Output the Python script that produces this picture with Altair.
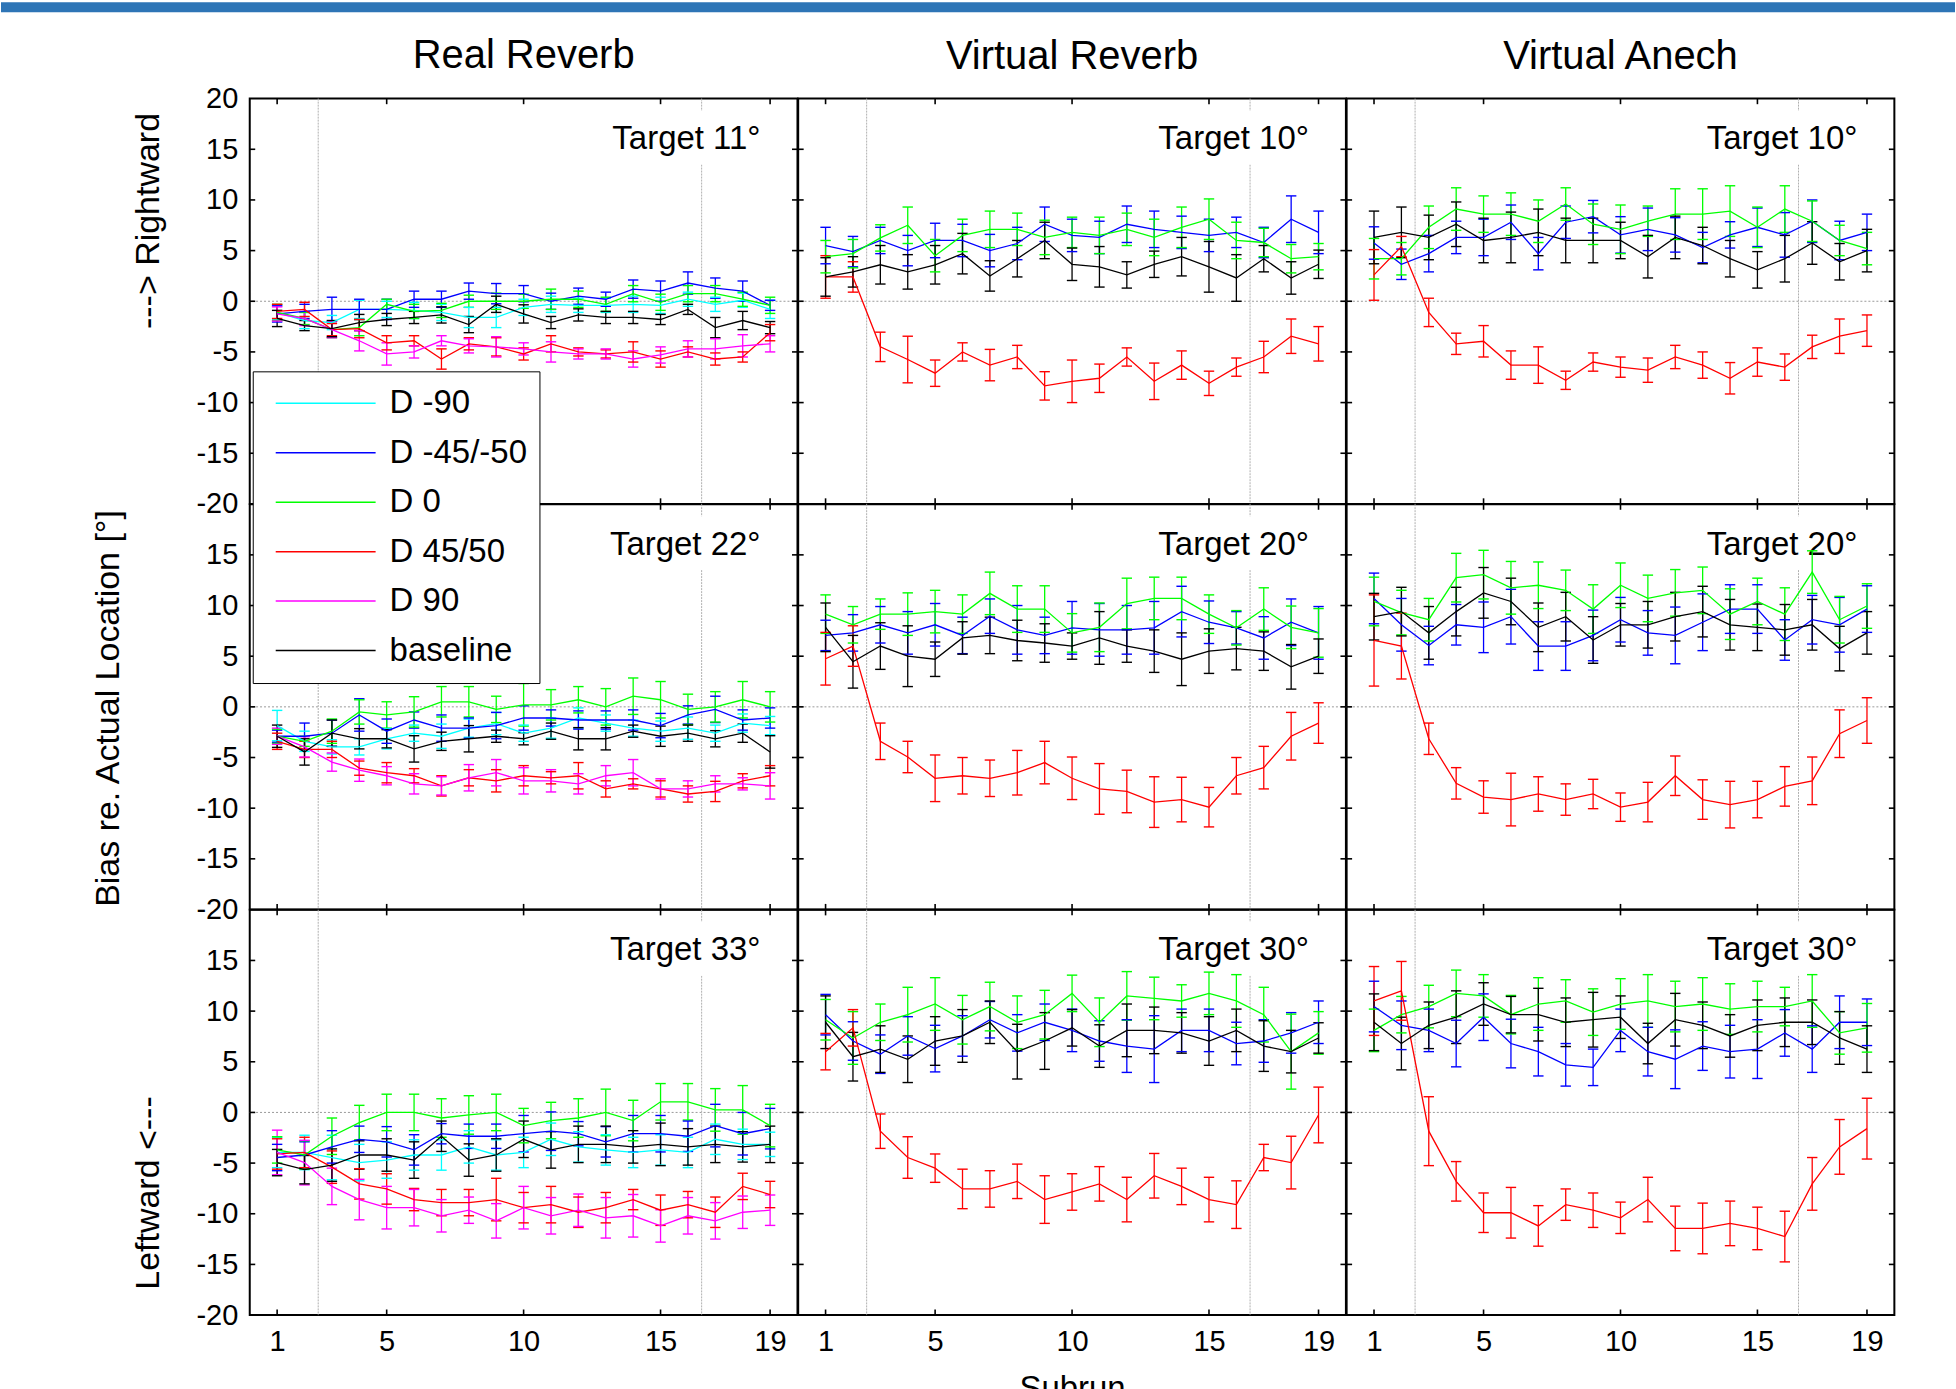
import altair as alt
import pandas as pd

FONT = "Liberation Sans"

SERIES = ["D -90", "D -45/-50", "D 0", "D 45/50", "D 90", "baseline"]
COLORS = ["#00ffff", "#0000ff", "#00ff00", "#ff0000", "#ff00ff", "#000000"]
COLUMN_TITLES = ["Real Reverb", "Virtual Reverb", "Virtual Anech"]
TARGETS = [["Target 11°", "Target 10°", "Target 10°"],
           ["Target 22°", "Target 20°", "Target 20°"],
           ["Target 33°", "Target 30°", "Target 30°"]]
SUBRUNS = list(range(1, 20))
X_TICKS = [1, 5, 10, 15, 19]
Y_TICKS_TOP = [-20, -15, -10, -5, 0, 5, 10, 15, 20]
Y_TICKS_LOWER = [-20, -15, -10, -5, 0, 5, 10, 15]
Y_INNER = [-15, -10, -5, 0, 5, 10, 15]
V_LINES = [2.5, 16.5]

# ---------------- Real Reverb, Target 11 ----------------
rr1_mean = {
    "D -90": [-1.1, -1.9, -2.1, -0.8, -0.8, -0.9, -1.1, -1.6, -1.6, -0.6, -0.3, -0.4, -0.4, -0.3, -0.4, 0.2, -0.3, 0.1, -0.8],
    "D -45/-50": [-1.25, -1.0, -0.8, -0.8, -0.8, 0.2, 0.2, 1.0, 0.75, 0.75, 0.0, 0.5, 0.2, 1.2, 1.0, 1.8, 1.3, 1.0, -0.4],
    "D 0": [-1.1, -1.7, -2.8, -2.6, -0.3, -1.0, -0.9, 0.0, 0.0, 0.0, 0.2, 0.2, -0.3, 0.75, -0.1, 0.75, 0.75, 0.2, -0.4],
    "D 45/50": [-1.0, -0.8, -2.8, -2.7, -4.1, -3.9, -5.7, -4.2, -4.5, -5.2, -4.2, -5.0, -5.2, -5.0, -5.7, -5.0, -5.7, -5.5, -3.1],
    "D 90": [-1.25, -1.7, -2.8, -3.9, -5.2, -5.0, -3.9, -4.4, -4.5, -4.7, -5.0, -5.2, -5.2, -5.7, -5.3, -4.7, -4.7, -4.4, -4.2],
    "baseline": [-1.7, -2.4, -2.7, -2.1, -1.8, -1.6, -1.35, -2.3, -0.3, -1.25, -2.1, -1.35, -1.6, -1.6, -1.8, -0.8, -2.6, -1.9, -2.6],
}
rr1_err = {
    "D -90": [0.7, 0.8, 0.7, 0.9, 0.8, 0.8, 0.8, 1.0, 1.0, 0.8, 0.8, 0.7, 0.7, 0.8, 0.8, 0.7, 0.7, 0.7, 0.9],
    "D -45/-50": [0.8, 0.7, 1.2, 1.0, 1.0, 0.8, 0.8, 0.8, 1.0, 0.8, 0.8, 0.8, 0.7, 0.9, 1.0, 1.1, 1.0, 1.0, 0.5],
    "D 0": [0.8, 0.6, 0.8, 0.8, 0.5, 0.7, 0.7, 0.6, 0.8, 0.7, 1.0, 0.8, 0.7, 0.8, 0.8, 0.8, 0.8, 0.7, 0.8],
    "D 45/50": [0.7, 0.7, 0.6, 0.9, 0.7, 0.5, 1.0, 0.6, 0.9, 0.6, 0.8, 0.4, 0.4, 1.0, 0.8, 0.5, 0.6, 0.5, 0.8],
    "D 90": [0.7, 0.7, 0.8, 1.0, 1.1, 0.6, 0.5, 0.7, 1.0, 0.6, 1.0, 0.5, 0.5, 0.8, 0.8, 0.8, 1.0, 1.1, 0.8],
    "baseline": [0.8, 0.5, 0.8, 0.8, 0.6, 0.6, 0.8, 0.8, 0.8, 0.9, 0.6, 0.6, 0.6, 0.6, 0.5, 0.5, 1.0, 0.9, 0.6],
}

# ---------------- Virtual Reverb, Target 10 ----------------
vr1_mean = {
    "D -45/-50": [5.5, 4.9, 6.0, 5.0, 6.0, 6.0, 5.0, 5.7, 7.6, 6.5, 6.3, 7.6, 7.1, 6.8, 6.5, 6.8, 5.8, 8.1, 6.8],
    "D 0": [4.4, 4.7, 6.25, 7.5, 4.5, 6.5, 7.1, 7.1, 6.3, 6.8, 6.5, 7.1, 6.3, 7.3, 8.1, 6.0, 5.8, 4.2, 4.4],
    "D 45/50": [2.4, 2.4, -4.5, -5.75, -7.1, -5.0, -6.3, -5.5, -8.35, -7.9, -7.6, -5.5, -7.9, -6.3, -8.1, -6.5, -5.5, -3.45, -4.2],
    "baseline": [2.4, 2.9, 3.6, 2.9, 3.6, 4.7, 2.5, 4.2, 6.0, 3.65, 3.4, 2.6, 3.65, 4.4, 3.4, 2.3, 4.2, 2.3, 3.65],
}
vr1_err = {
    "D -45/-50": [1.8, 1.5, 1.3, 1.5, 1.7, 1.6, 1.6, 1.6, 1.7, 1.6, 1.6, 1.8, 1.8, 1.6, 1.6, 1.5, 1.5, 2.3, 2.1],
    "D 0": [1.6, 1.4, 1.3, 1.8, 1.6, 1.6, 1.8, 1.6, 1.7, 1.5, 1.8, 1.6, 1.8, 2.0, 2.0, 1.8, 1.4, 1.4, 1.3],
    "D 45/50": [2.1, 1.5, 1.45, 2.3, 1.3, 0.9, 1.55, 1.15, 1.4, 2.1, 1.4, 0.9, 1.8, 1.4, 1.2, 0.9, 1.55, 1.7, 1.7],
    "baseline": [1.9, 1.5, 1.9, 1.7, 1.9, 2.0, 1.5, 1.8, 1.8, 1.6, 2.0, 1.3, 1.3, 1.9, 2.5, 2.3, 1.3, 1.6, 1.4],
}

# ---------------- Virtual Anech, Target 10 ----------------
va1_mean = {
    "D -45/-50": [5.75, 3.65, 4.7, 6.3, 6.3, 7.8, 4.7, 7.8, 8.35, 6.55, 7.1, 6.55, 5.3, 6.55, 7.3, 6.55, 7.9, 6.0, 6.8],
    "D 0": [4.2, 4.2, 7.3, 9.1, 8.6, 8.6, 7.9, 9.6, 7.6, 7.1, 7.9, 8.6, 8.6, 8.9, 7.3, 9.1, 7.9, 6.0, 5.2],
    "D 45/50": [2.6, 5.4, -1.1, -4.2, -3.95, -6.3, -6.3, -7.8, -6.0, -6.5, -6.8, -5.5, -6.3, -7.6, -6.0, -6.5, -4.5, -3.45, -2.9],
    "baseline": [6.3, 6.8, 6.3, 7.6, 6.0, 6.3, 6.8, 6.0, 6.0, 6.0, 4.4, 6.3, 5.5, 4.2, 3.1, 4.2, 5.75, 3.9, 5.0],
}
va1_err = {
    "D -45/-50": [1.6, 1.5, 1.8, 1.6, 1.8, 1.7, 1.6, 1.6, 1.6, 1.8, 2.1, 1.7, 1.5, 1.3, 1.9, 2.2, 2.1, 1.9, 1.8],
    "D 0": [2.0, 1.6, 2.1, 2.1, 1.8, 2.1, 2.1, 1.6, 2.0, 2.4, 1.5, 2.5, 2.5, 2.5, 2.0, 2.3, 2.0, 1.5, 1.6],
    "D 45/50": [2.5, 1.0, 1.4, 1.05, 1.55, 1.4, 1.8, 0.9, 0.9, 1.0, 1.2, 1.15, 1.3, 1.55, 1.4, 1.3, 1.15, 1.7, 1.55],
    "baseline": [2.6, 2.5, 2.2, 2.2, 2.2, 2.5, 2.3, 2.2, 2.2, 1.8, 2.1, 2.1, 1.8, 1.8, 1.8, 2.3, 2.1, 1.8, 2.1],
}

# ---------------- Real Reverb, Target 22 ----------------
rr2_mean = {
    "D -90": [-1.85, -3.4, -3.95, -3.95, -3.15, -2.6, -2.9, -2.1, -1.65, -2.6, -2.1, -1.1, -1.6, -2.1, -2.4, -2.1, -2.6, -1.6, -1.85],
    "D -45/-50": [-2.9, -2.9, -2.6, -0.8, -2.4, -1.3, -2.1, -2.1, -1.85, -1.1, -1.1, -1.3, -1.3, -1.3, -1.85, -0.8, -0.25, -1.3, -1.1],
    "D 0": [-2.9, -3.4, -2.4, -0.5, -0.8, -0.5, 0.5, 0.5, -0.25, 0.2, 0.2, 0.7, 0.0, 1.05, 0.7, -0.25, 0.0, 0.7, 0.0],
    "D 45/50": [-3.4, -4.2, -4.2, -6.05, -6.5, -6.8, -7.8, -7.0, -7.3, -6.8, -7.0, -6.8, -8.1, -7.6, -8.1, -8.6, -8.35, -7.3, -6.8],
    "D 90": [-2.9, -3.95, -5.45, -6.25, -6.8, -7.6, -7.8, -7.0, -6.5, -7.3, -7.3, -7.6, -6.8, -6.5, -8.1, -8.1, -7.6, -7.6, -7.8],
    "baseline": [-2.9, -4.45, -2.6, -3.15, -3.15, -4.15, -3.4, -3.15, -2.9, -3.15, -2.4, -3.15, -3.15, -2.4, -2.9, -2.6, -3.15, -2.6, -4.45],
}
rr2_err = {
    "D -90": [1.5, 1.0, 0.7, 0.8, 1.0, 0.8, 1.2, 0.9, 1.1, 0.8, 1.0, 1.0, 0.8, 0.8, 1.0, 1.1, 0.8, 0.9, 0.9],
    "D -45/-50": [0.6, 1.3, 1.3, 1.6, 1.2, 0.8, 1.3, 1.0, 1.3, 1.2, 0.8, 0.9, 0.9, 1.0, 1.2, 0.9, 1.3, 1.0, 1.0],
    "D 0": [0.7, 0.5, 1.2, 1.2, 1.3, 1.5, 1.5, 1.5, 1.3, 2.1, 1.5, 1.3, 1.8, 1.8, 1.8, 1.5, 1.5, 1.8, 1.5],
    "D 45/50": [0.8, 0.8, 0.8, 0.7, 1.0, 0.7, 1.0, 0.8, 1.1, 1.0, 0.6, 1.3, 0.8, 0.5, 0.8, 0.8, 1.0, 0.7, 1.0],
    "D 90": [0.8, 1.0, 0.9, 1.1, 0.9, 1.0, 0.9, 1.3, 1.3, 1.3, 1.1, 1.0, 1.0, 1.3, 1.0, 0.8, 0.8, 0.6, 1.3],
    "baseline": [1.1, 1.3, 1.3, 1.0, 0.9, 1.3, 0.9, 1.3, 0.6, 0.6, 0.8, 1.1, 1.1, 0.6, 1.0, 0.8, 0.8, 0.9, 1.6],
}

# ---------------- Virtual Reverb, Target 20 ----------------
vr2_mean = {
    "D -45/-50": [7.05, 7.3, 8.1, 7.3, 8.1, 7.05, 8.95, 7.6, 7.05, 7.8, 7.6, 7.6, 7.8, 9.4, 8.35, 7.8, 6.8, 8.35, 7.3],
    "D 0": [9.15, 8.1, 9.15, 9.15, 9.4, 9.15, 11.2, 9.65, 9.65, 7.3, 7.85, 10.2, 10.7, 10.7, 9.15, 7.8, 9.65, 7.85, 7.3],
    "D 45/50": [4.75, 6.0, -3.4, -4.95, -7.05, -6.8, -7.05, -6.5, -5.5, -7.05, -8.1, -8.35, -9.4, -9.15, -9.9, -6.8, -6.0, -2.9, -1.6],
    "baseline": [7.85, 4.45, 6.0, 5.0, 4.7, 6.8, 7.05, 6.55, 6.3, 6.0, 6.8, 6.0, 5.5, 4.7, 5.5, 5.75, 5.5, 3.95, 5.0],
}
vr2_err = {
    "D -45/-50": [1.5, 1.8, 1.8, 2.1, 2.1, 1.8, 1.7, 2.4, 1.8, 2.6, 2.6, 2.4, 2.6, 2.5, 2.1, 1.6, 2.1, 2.3, 2.6],
    "D 0": [1.9, 1.8, 1.5, 2.1, 2.1, 1.9, 2.1, 2.3, 2.3, 1.9, 2.4, 2.5, 2.1, 2.1, 1.9, 1.7, 2.1, 2.1, 2.4],
    "D 45/50": [2.6, 2.0, 1.8, 1.55, 2.3, 1.8, 1.8, 2.2, 2.1, 2.1, 2.5, 2.1, 2.5, 2.2, 1.95, 1.8, 2.1, 2.35, 2.0],
    "baseline": [2.4, 2.6, 2.3, 3.0, 1.7, 1.6, 1.8, 2.0, 1.9, 1.3, 2.6, 1.6, 2.1, 2.6, 2.2, 2.1, 1.9, 2.2, 1.7],
}

# ---------------- Virtual Anech, Target 20 ----------------
va2_mean = {
    "D -45/-50": [10.7, 8.1, 6.05, 8.1, 7.85, 8.9, 6.0, 6.0, 7.05, 8.6, 7.3, 7.05, 8.35, 9.65, 9.65, 6.6, 8.6, 8.1, 9.65],
    "D 0": [10.4, 9.3, 8.6, 12.75, 13.05, 11.75, 12.0, 11.5, 9.65, 12.0, 10.7, 11.25, 11.5, 9.15, 10.4, 9.15, 13.3, 8.6, 9.95],
    "D 45/50": [6.55, 6.0, -3.15, -7.55, -8.9, -9.15, -8.6, -9.15, -8.6, -9.9, -9.4, -6.8, -9.15, -9.65, -9.15, -7.85, -7.3, -2.65, -1.35],
    "baseline": [8.9, 9.4, 7.3, 9.4, 11.25, 10.4, 7.85, 8.9, 6.6, 8.1, 8.1, 8.9, 9.4, 8.1, 7.85, 7.6, 8.1, 5.75, 7.3],
}
va2_err = {
    "D -45/-50": [2.5, 2.6, 1.9, 2.0, 2.5, 2.7, 2.4, 2.4, 2.5, 2.2, 2.2, 2.8, 2.8, 2.4, 2.4, 2.0, 2.4, 2.7, 2.3],
    "D 0": [2.4, 2.2, 2.1, 2.4, 2.4, 2.6, 2.3, 2.0, 2.4, 2.2, 2.3, 2.3, 2.3, 2.5, 2.3, 2.6, 2.1, 2.3, 2.2],
    "D 45/50": [4.5, 3.25, 1.55, 1.55, 1.6, 2.6, 1.7, 1.55, 1.45, 1.4, 1.95, 1.95, 1.95, 2.3, 1.8, 1.95, 2.35, 2.35, 2.25],
    "baseline": [2.3, 2.4, 2.6, 2.4, 2.5, 2.3, 2.4, 2.4, 2.3, 2.1, 2.3, 2.4, 2.5, 2.5, 2.3, 2.5, 2.5, 2.2, 2.1],
}

# ---------------- Real Reverb, Target 33 ----------------
rr3_mean = {
    "D -90": [-3.95, -3.95, -4.45, -4.95, -4.7, -4.2, -4.2, -3.4, -4.2, -3.95, -2.65, -3.4, -3.7, -3.95, -3.7, -3.95, -2.65, -3.15, -3.15],
    "D -45/-50": [-4.45, -4.2, -3.4, -2.65, -2.9, -3.7, -2.1, -2.35, -2.35, -2.1, -1.85, -2.1, -2.9, -2.1, -2.1, -2.35, -1.3, -2.1, -1.6],
    "D 0": [-3.7, -4.2, -2.35, -1.0, 0.0, 0.0, -0.55, -0.25, 0.0, -1.3, -0.8, -0.55, 0.0, -0.8, 1.05, 1.05, 0.25, 0.25, -1.3],
    "D 45/50": [-4.1, -3.95, -5.4, -7.05, -7.55, -8.6, -8.9, -8.9, -8.6, -9.4, -9.1, -9.85, -9.4, -8.6, -9.65, -9.1, -9.85, -7.3, -8.1],
    "D 90": [-3.95, -4.95, -7.3, -8.6, -9.4, -9.4, -10.2, -9.65, -10.7, -9.4, -10.2, -9.65, -10.4, -10.2, -11.2, -10.2, -10.7, -9.85, -9.65],
    "baseline": [-4.95, -5.65, -5.2, -4.2, -4.2, -4.7, -2.35, -4.7, -4.2, -2.65, -3.7, -3.15, -3.15, -3.4, -3.15, -3.4, -3.15, -3.4, -3.15],
}
rr3_err = {
    "D -90": [1.5, 1.7, 2.2, 1.8, 1.8, 1.5, 1.5, 1.6, 1.5, 1.5, 1.6, 1.5, 1.5, 1.5, 1.5, 1.5, 1.5, 1.5, 1.2],
    "D -45/-50": [1.3, 1.3, 1.6, 1.3, 1.5, 1.5, 1.0, 1.2, 1.2, 1.8, 1.9, 1.2, 1.5, 1.8, 1.8, 1.5, 2.1, 2.1, 2.0],
    "D 0": [1.3, 1.4, 1.8, 1.7, 1.8, 1.8, 1.9, 1.9, 1.8, 1.7, 1.8, 1.9, 2.3, 2.0, 1.8, 1.8, 2.1, 2.4, 2.1],
    "D 45/50": [1.5, 1.5, 1.6, 1.5, 1.5, 1.1, 1.3, 1.3, 2.1, 1.5, 1.8, 1.5, 1.5, 1.0, 1.5, 1.3, 1.5, 1.3, 1.3],
    "D 90": [2.2, 2.2, 1.8, 2.0, 2.1, 1.8, 1.6, 1.3, 1.7, 2.1, 1.8, 1.6, 2.0, 2.1, 1.6, 1.8, 1.8, 1.6, 1.5],
    "baseline": [1.3, 1.4, 1.6, 1.4, 1.6, 1.8, 1.5, 1.6, 1.6, 1.8, 1.8, 1.8, 1.8, 1.6, 2.1, 1.8, 1.8, 1.5, 1.8],
}

# ---------------- Virtual Reverb, Target 30 ----------------
vr3_mean = {
    "D -45/-50": [9.65, 7.05, 5.75, 7.55, 6.3, 7.55, 9.15, 7.85, 8.9, 8.1, 7.05, 6.55, 6.25, 8.1, 8.1, 6.8, 7.05, 7.85, 8.9],
    "D 0": [9.15, 7.35, 8.9, 9.65, 10.7, 9.15, 10.45, 8.9, 9.65, 11.75, 8.9, 11.5, 11.25, 11.0, 11.75, 11.0, 9.65, 6.0, 7.85],
    "D 45/50": [6.0, 8.35, -1.85, -4.45, -5.5, -7.55, -7.55, -6.8, -8.6, -7.85, -7.05, -8.6, -6.25, -7.3, -8.6, -9.1, -4.45, -4.95, -0.25],
    "baseline": [8.9, 5.5, 6.25, 5.25, 7.05, 7.55, 8.9, 6.0, 7.05, 8.35, 6.55, 8.1, 8.1, 7.85, 7.05, 8.1, 6.55, 6.0, 7.35],
}
vr3_err = {
    "D -45/-50": [2.0, 1.9, 1.9, 1.9, 2.3, 2.0, 1.8, 1.8, 1.8, 2.1, 2.0, 2.6, 3.3, 2.1, 2.1, 2.1, 2.1, 2.0, 2.1],
    "D 0": [2.0, 2.6, 1.8, 2.7, 2.6, 2.4, 2.4, 2.6, 2.4, 1.8, 2.4, 2.4, 2.1, 1.6, 2.1, 2.6, 2.7, 3.7, 2.1],
    "D 45/50": [1.8, 1.8, 1.7, 2.05, 1.4, 1.95, 1.8, 1.7, 2.35, 1.8, 1.7, 2.2, 2.2, 1.8, 2.2, 2.35, 1.3, 2.6, 2.75],
    "baseline": [2.6, 2.4, 2.3, 2.3, 2.4, 2.6, 2.1, 2.7, 2.8, 1.8, 2.1, 2.6, 2.3, 2.0, 2.4, 2.1, 2.5, 2.1, 1.5],
}

# ---------------- Virtual Anech, Target 30 ----------------
va3_mean = {
    "D -45/-50": [10.45, 8.6, 8.1, 6.8, 9.4, 6.8, 6.0, 4.7, 4.45, 8.1, 6.0, 5.25, 6.55, 6.0, 6.25, 7.85, 6.25, 8.9, 8.9],
    "D 0": [8.1, 9.65, 10.45, 11.75, 11.5, 9.65, 10.7, 11.0, 9.9, 10.7, 11.0, 10.45, 10.7, 10.2, 10.45, 10.45, 11.0, 7.85, 8.35],
    "D 45/50": [11.0, 12.0, -1.85, -6.8, -9.9, -9.9, -11.2, -9.1, -9.65, -10.4, -8.6, -11.45, -11.45, -10.95, -11.45, -12.25, -7.05, -3.4, -1.6],
    "baseline": [8.9, 6.8, 8.6, 9.4, 10.7, 9.65, 9.65, 8.9, 9.15, 9.4, 6.8, 9.15, 8.6, 7.55, 8.6, 8.9, 8.9, 7.35, 6.25],
}
va3_err = {
    "D -45/-50": [2.5, 2.4, 2.1, 2.3, 2.3, 2.4, 2.4, 2.1, 1.8, 2.1, 2.4, 2.9, 2.4, 2.6, 2.9, 2.3, 2.3, 2.6, 2.3],
    "D 0": [2.1, 1.8, 2.1, 2.3, 2.1, 1.9, 2.6, 2.1, 2.3, 2.5, 2.6, 2.5, 2.6, 2.5, 2.5, 1.9, 2.6, 2.1, 2.4],
    "D 45/50": [3.4, 2.9, 3.4, 1.95, 1.95, 2.5, 2.0, 1.55, 1.7, 1.55, 2.2, 2.2, 2.5, 2.2, 2.1, 2.5, 2.6, 2.7, 3.0],
    "baseline": [2.8, 2.6, 2.3, 2.6, 2.1, 1.8, 2.6, 2.4, 2.7, 2.1, 2.0, 2.6, 2.3, 2.1, 2.5, 2.4, 2.2, 2.6, 2.3],
}

PANELS = {
    (0, 0): (rr1_mean, rr1_err), (0, 1): (vr1_mean, vr1_err), (0, 2): (va1_mean, va1_err),
    (1, 0): (rr2_mean, rr2_err), (1, 1): (vr2_mean, vr2_err), (1, 2): (va2_mean, va2_err),
    (2, 0): (rr3_mean, rr3_err), (2, 1): (vr3_mean, vr3_err), (2, 2): (va3_mean, va3_err),
}

rows = []
for (r, c), (means, errs) in PANELS.items():
    for s in SERIES:
        if s not in means:
            continue
        for i, x in enumerate(SUBRUNS):
            rows.append({"row": r, "col": c, "series": s, "subrun": x,
                         "mean": means[s][i], "err": errs[s][i]})
df = pd.DataFrame(rows)
ONE = pd.DataFrame({"k": [0]})

W, H = 548.3, 405.7
XS = alt.Scale(domain=[0, 20], nice=False, zero=False)
YS = alt.Scale(domain=[-20, 20], nice=False, zero=False)
CS = alt.Scale(domain=SERIES, range=COLORS)
LEG = alt.Legend(orient="none", legendX=3, legendY=273, fillColor="white",
                 strokeColor="black", padding=12, symbolType="stroke",
                 symbolSize=10000, symbolStrokeWidth=1.5, symbolOffset=10,
                 labelFont=FONT, labelFontSize=33, labelColor="black",
                 labelOffset=13, clipHeight=40, rowPadding=9.5, labelLimit=400)

Y_TITLES = {0: ("---> Rightward", -84, 122), 1: ("Bias re. Actual Location [°]", -124, 204),
            2: ("Leftward <---", -84, 283)}


def panel(r, c):
    if r == 2:
        xa = alt.Axis(values=X_TICKS, ticks=False, domain=False, grid=False,
                      labelFont=FONT, labelFontSize=29, labelColor="black", labelPadding=12,
                      title="Subrun" if c == 1 else "", titleFont=FONT, titleFontSize=33,
                      titleFontWeight="normal", titleColor="black", titleY=58,
                      titleBaseline="top")
    else:
        xa = None
    if c == 0:
        t, tx, ty = Y_TITLES[r]
        ya = alt.Axis(values=Y_TICKS_TOP if r == 0 else Y_TICKS_LOWER, ticks=False,
                      domain=False, grid=False, labelFont=FONT, labelFontSize=29,
                      labelColor="black", labelPadding=12, labelExpr="'' + datum.value",
                      title=t, titleFont=FONT,
                      titleFontSize=34, titleFontWeight="normal", titleColor="black",
                      titleAngle=270, titleX=tx, titleY=ty, titleBaseline="bottom",
                      titleAlign="center")
    else:
        ya = None

    def X(*a, **k):
        return alt.X(*a, scale=XS, axis=xa, **k)

    def Y(*a, **k):
        return alt.Y(*a, scale=YS, axis=ya, **k)

    def XD(v):
        return alt.XDatum(v, scale=XS, axis=xa)

    def YD(v):
        return alt.YDatum(v, scale=YS, axis=ya)

    base = alt.Chart(df).transform_filter(
        f"datum.row == {r} && datum.col == {c}"
    ).transform_calculate(
        lo="datum.mean - datum.err", hi="datum.mean + datum.err",
        xl="datum.subrun - 0.19", xr="datum.subrun + 0.19")
    col = alt.Color("series:N", scale=CS, legend=LEG, title=None)

    one = alt.Chart(ONE)
    hline = one.mark_rule(color="#9a9a9a", strokeDash=[2, 2], strokeWidth=1).encode(
        y=YD(0))
    vlines = alt.Chart(pd.DataFrame({"v": V_LINES})).mark_rule(
        color="#b0b0b0", strokeDash=[2, 1], strokeWidth=1).encode(x=X("v:Q"))
    box = one.mark_rect(color="white").encode(
        x=XD(12.4), x2=alt.datum(19.6), y=YD(18.8), y2=alt.datum(13.5))
    label = alt.Chart(pd.DataFrame({"t": [TARGETS[r][c]]})).mark_text(
        align="right", baseline="middle", font=FONT, fontSize=33, color="black").encode(
        x=XD(18.65), y=YD(16), text="t:N")

    xt = alt.Chart(pd.DataFrame({"v": X_TICKS})).mark_rule(color="black", strokeWidth=1.6)
    yt = alt.Chart(pd.DataFrame({"v": Y_INNER})).mark_rule(color="black", strokeWidth=1.6)
    tick_top = xt.encode(x=X("v:Q"), y=YD(20), y2=alt.datum(19.45))
    tick_bot = xt.encode(x=X("v:Q"), y=YD(-20), y2=alt.datum(-19.45))
    tick_l = yt.encode(y=Y("v:Q"), x=XD(0), x2=alt.datum(0.2))
    tick_r = yt.encode(y=Y("v:Q"), x=XD(20), x2=alt.datum(19.8))

    bars = base.mark_rule(strokeWidth=1.3).encode(
        x=X("subrun:Q"), y=Y("lo:Q"), y2="hi:Q", color=col)
    cap_lo = base.mark_rule(strokeWidth=1.4).encode(
        x=X("xl:Q"), x2="xr:Q", y=Y("lo:Q"), color=col)
    cap_hi = base.mark_rule(strokeWidth=1.4).encode(
        x=X("xl:Q"), x2="xr:Q", y=Y("hi:Q"), color=col)
    lines = base.mark_line(strokeWidth=1.3).encode(
        x=X("subrun:Q"), y=Y("mean:Q"), color=col)

    layers = [hline, vlines, box, label, tick_top, tick_bot, tick_l, tick_r,
              bars, cap_lo, cap_hi, lines]
    if r == 2 and c == 0:
        # slide banner strip along the top edge of the page
        top = -97 - 2 * H
        banner = one.mark_rect(color="#2e75b6").encode(
            x=alt.value(-249), x2=alt.value(1707), y=alt.value(top), y2=alt.value(top + 10))
        layers = layers + [banner]
    ch = alt.layer(*layers).properties(width=W, height=H)
    if r == 0:
        # the first column's top tick label sticks up above the frame, so pull its title down
        off = 8.5 if c == 0 else 21
        ch = ch.properties(title=alt.Title(COLUMN_TITLES[c], offset=off))
    return ch


charts = [panel(r, c) for r in range(3) for c in range(3)]
chart = alt.concat(*charts, columns=3, spacing=0, bounds="flush").properties(
    padding=0, background="white"
).configure_view(stroke="black", strokeWidth=2).configure_title(
    font=FONT, fontSize=40, fontWeight="normal", color="black", anchor="middle",
    baseline="alphabetic")

chart.save("out.html", embed_options={"renderer": "svg", "actions": False})
